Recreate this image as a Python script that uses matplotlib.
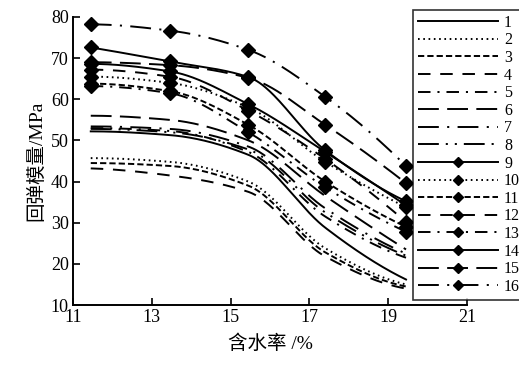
import numpy as np
import matplotlib
matplotlib.use("Agg")
import matplotlib.pyplot as plt

plt.rcParams['font.family'] = ['Liberation Serif', 'Noto Sans CJK SC']
plt.rcParams['lines.scale_dashes'] = False

# moisture content (%) at the test points
moisture = [11.45, 13.45, 15.45, 17.4, 19.45]

# resilient modulus (MPa) for each of the 16 curves
s1 = [52.2, 51.3, 46.5, 28.8, 16.2]
s2 = [45.7, 44.8, 40.0, 23.8, 15.0]
s3 = [44.5, 43.8, 39.0, 22.8, 14.5]
s4 = [43.2, 41.5, 37.5, 21.8, 14.0]
s5 = [53.0, 52.3, 47.2, 31.5, 21.5]
s6 = [56.0, 55.0, 50.0, 36.5, 23.5]
s7 = [53.4, 52.8, 48.5, 33.5, 22.5]
s8 = [52.8, 52.0, 47.8, 32.5, 22.0]
s9 = [72.6, 69.2, 65.4, 47.6, 35.2]
s10 = [65.5, 64.0, 58.0, 44.8, 33.8]
s11 = [63.8, 62.0, 53.8, 40.0, 29.0]
s12 = [67.2, 65.5, 57.2, 45.5, 30.2]
s13 = [63.2, 61.5, 52.0, 38.6, 27.8]
s14 = [68.6, 66.8, 58.8, 47.2, 34.2]
s15 = [69.0, 68.3, 65.2, 53.8, 39.6]
s16 = [78.2, 76.7, 72.0, 60.6, 43.8]

series = [s1, s2, s3, s4, s5, s6, s7, s8,
          s9, s10, s11, s12, s13, s14, s15, s16]
labels = [str(i) for i in range(1, 17)]

# dash patterns (on/off in points)
solid = None
dotted = (0, (1.2, 2.6))
short_dash = (0, (4.5, 2.2))
dash = (0, (9, 7))
dash_dot = (0, (9, 5, 1.5, 5))
long_dash = (0, (15, 6))
long_dash_dot = (0, (15, 6, 1.5, 6))
long_dash_dot_dot = (0, (15, 5, 1.5, 5, 1.5, 5))

styles = [solid, dotted, short_dash, dash, dash_dot, long_dash,
          long_dash_dot, long_dash_dot_dot,
          solid, dotted, short_dash, dash, dash_dot, solid,
          long_dash, long_dash_dot]


def pchip(x, y, xs):
    x = np.asarray(x, float)
    y = np.asarray(y, float)
    h = np.diff(x)
    d = np.diff(y) / h
    n = len(x)
    m = np.zeros(n)
    for k in range(1, n - 1):
        if d[k - 1] * d[k] > 0:
            w1 = 2 * h[k] + h[k - 1]
            w2 = h[k] + 2 * h[k - 1]
            m[k] = (w1 + w2) / (w1 / d[k - 1] + w2 / d[k])
    m[0] = ((2 * h[0] + h[1]) * d[0] - h[0] * d[1]) / (h[0] + h[1])
    if np.sign(m[0]) != np.sign(d[0]):
        m[0] = 0
    m[-1] = ((2 * h[-1] + h[-2]) * d[-1] - h[-1] * d[-2]) / (h[-1] + h[-2])
    if np.sign(m[-1]) != np.sign(d[-1]):
        m[-1] = 0
    out = np.empty_like(xs)
    for i, xv in enumerate(xs):
        k = min(max(np.searchsorted(x, xv) - 1, 0), n - 2)
        t = (xv - x[k]) / h[k]
        h00 = 2 * t**3 - 3 * t**2 + 1
        h10 = t**3 - 2 * t**2 + t
        h01 = -2 * t**3 + 3 * t**2
        h11 = t**3 - t**2
        out[i] = h00 * y[k] + h10 * h[k] * m[k] + h01 * y[k + 1] + h11 * h[k] * m[k + 1]
    return out


fig = plt.figure(figsize=(5.19, 3.69), dpi=100)
ax = fig.add_axes([0.1407, 0.1734, 0.7593, 0.7806])

xs = np.linspace(moisture[0], moisture[-1], 300)
handles = []
for i, (vals, ls, lab) in enumerate(zip(series, styles, labels)):
    has_marker = i >= 8
    kw = dict(color='black', lw=1.4)
    kw['linestyle'] = '-' if ls is None else ls
    ax.plot(xs, pchip(moisture, vals, xs), **kw)
    if has_marker:
        ax.plot(moisture, vals, linestyle='none', marker='D',
                markersize=7, color='black')
    h, = ax.plot([], [], marker='D' if has_marker else None,
                 markersize=5.5, label=lab, **kw)
    handles.append(h)

ax.set_xlim(11, 21)
ax.set_ylim(10, 80)
ax.set_xticks([11, 13, 15, 17, 19, 21])
ax.set_yticks(range(10, 81, 10))
ax.tick_params(direction='in', length=5, width=1.2, labelsize=13, pad=3)
for s in ['top', 'right']:
    ax.spines[s].set_visible(False)
for s in ['left', 'bottom']:
    ax.spines[s].set_linewidth(1.4)

ax.set_xlabel('含水率 /%', fontsize=14, labelpad=6)
ax.set_ylabel('回弹模量/MPa', fontsize=14, labelpad=4)

leg = fig.legend(handles=handles, loc='upper left',
                 bbox_to_anchor=(413 / 519, 1 - 10 / 369),
                 ncol=1, frameon=True, fancybox=False, fontsize=11.5,
                 handlelength=5.0, numpoints=1, labelspacing=0.1,
                 borderpad=0.3, handletextpad=0.4, borderaxespad=0)
leg.get_frame().set_edgecolor('black')
leg.get_frame().set_linewidth(1.2)

fig.savefig('out.png', dpi=100)
